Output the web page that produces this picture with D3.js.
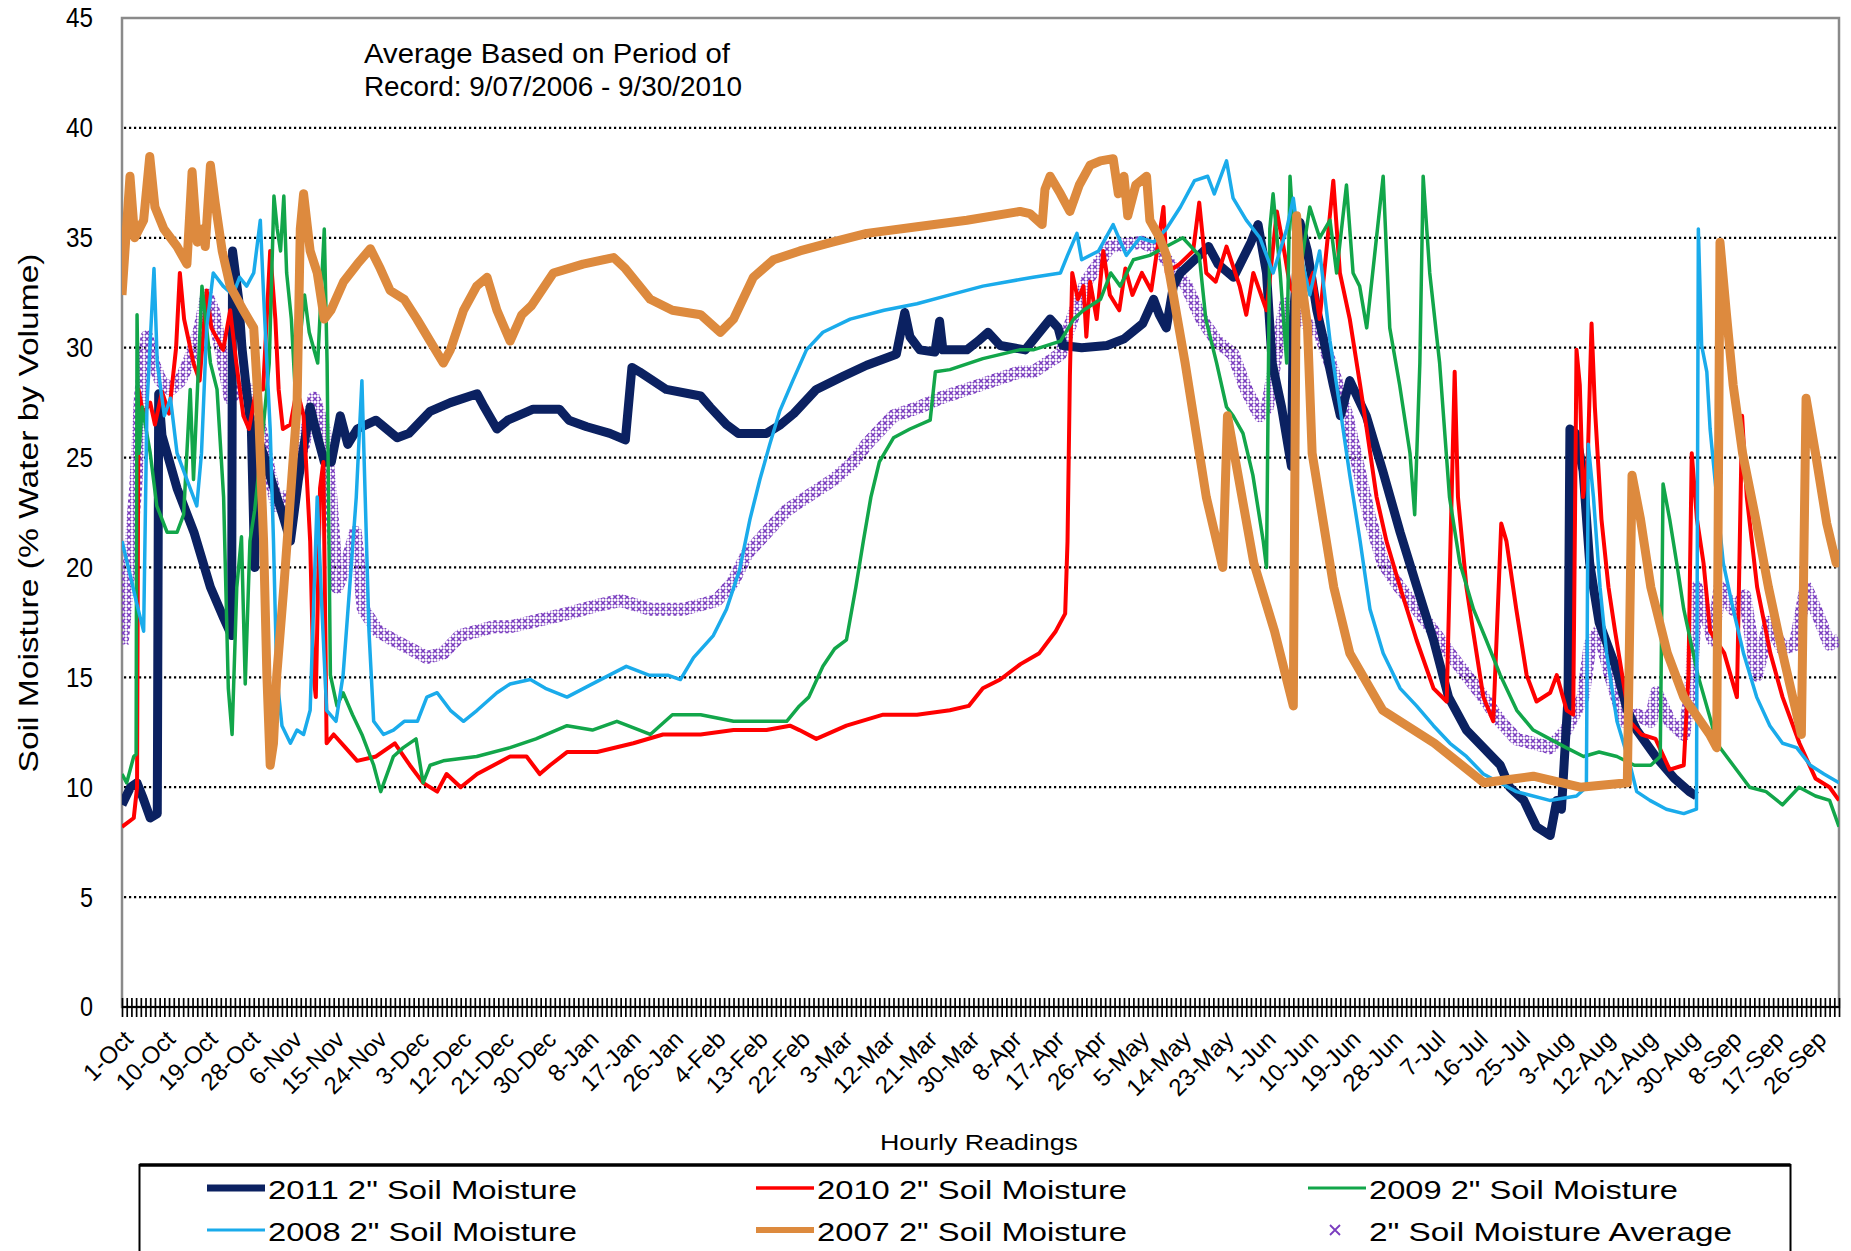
<!DOCTYPE html>
<html><head><meta charset="utf-8">
<script src="https://cdn.jsdelivr.net/npm/d3@7"></script>
<style>
html,body{margin:0;padding:0;background:#fff;}
svg{display:block;}
text{font-family:"Liberation Sans",Arial,sans-serif;fill:#000;}
</style></head>
<body>
<svg id="chart" width="1851" height="1251"></svg>
<script>
// ---------- DATA (day index from 1-Oct, % water by volume) ----------
const xLabels = ['1-Oct','10-Oct','19-Oct','28-Oct','6-Nov','15-Nov','24-Nov','3-Dec','12-Dec','21-Dec','30-Dec','8-Jan','17-Jan','26-Jan','4-Feb','13-Feb','22-Feb','3-Mar','12-Mar','21-Mar','30-Mar','8-Apr','17-Apr','26-Apr','5-May','14-May','23-May','1-Jun','10-Jun','19-Jun','28-Jun','7-Jul','16-Jul','25-Jul','3-Aug','12-Aug','21-Aug','30-Aug','8-Sep','17-Sep','26-Sep'];
const yTicks = [0,5,10,15,20,25,30,35,40,45];

const s2011 = [[0,9.2],[1.8,10],[3.2,10.2],[4.5,9.5],[6,8.6],[7.5,8.8],[7.8,27.9],[8.5,26],[11.7,23.6],[15.3,21.6],[18.8,19.1],[21.6,17.7],[23.3,16.9],[23.5,34.4],[24.8,32.2],[25.5,30],[26.5,28],[27.5,26.3],[28.2,20],[28.7,26],[30,25.2],[32,23.8],[34,22.5],[35.8,21.2],[37.5,24],[40,27.3],[41.5,26],[43,24.8],[44.5,24.8],[46.4,26.9],[48,25.6],[50,26.3],[54,26.7],[58.5,25.9],[61,26.1],[65.5,27.1],[69.8,27.5],[75.5,27.9],[77,27.3],[79.7,26.3],[82,26.7],[87.4,27.2],[93,27.2],[95,26.7],[98.8,26.4],[103.7,26.1],[107,25.8],[108.4,29.1],[110,28.9],[115.7,28.1],[123,27.8],[125,27.3],[128.5,26.5],[131,26.1],[137,26.1],[140,26.5],[142.8,27],[147.6,28.1],[153.3,28.7],[158.3,29.2],[164.6,29.7],[166.4,31.6],[167.5,30.5],[169.6,29.9],[172.8,29.8],[173.8,31.2],[174.5,29.9],[179.6,29.9],[182,30.3],[184.1,30.7],[186.7,30.1],[192,29.9],[197.3,31.3],[199,30.9],[200,30.1],[204,30],[209.4,30.1],[213,30.4],[217,31.1],[219.3,32.2],[220.5,31.5],[222,30.9],[223.5,32.8],[225,33.4],[229,34.2],[231,34.6],[233,33.8],[236.3,33.2],[240,34.8],[241.5,35.6],[243.3,33.4],[244.5,29.3],[246.5,27.3],[248.6,24.6],[249,31.3],[250.4,35.7],[252,34.4],[254,31.7],[255.7,30.1],[257.5,28.3],[259,26.9],[261,28.5],[264.5,26.9],[268,24.4],[271.7,21.6],[275.3,19.1],[278.8,16.7],[282,14.1],[285.8,12.6],[289.4,11.8],[293,11],[295,10],[298,9.4],[300.7,8.2],[303.6,7.8],[305,9.4],[306,9],[307.4,14.1],[307.8,26.3],[309,26.1],[310.6,24.4],[312,20.2],[312.8,19.1],[314,17.5],[317.5,15.5],[320,13.5],[322,12.6],[326,11.4],[330,10.4],[333.2,9.8],[334.7,9.6]];

const s2010 = [[0,8.2],[2.5,8.6],[3.2,10],[3.5,28.1],[4.5,27],[6,27.5],[7,26.5],[8.5,28],[10,27],[11.5,30],[12.3,33.4],[13.2,31.3],[15.2,29.3],[16.5,28.5],[18,32.6],[19,30.9],[20.5,30.3],[21.5,29.9],[23,31.7],[24.3,29.3],[25.8,26.9],[27,26.3],[28.5,28.1],[30,28.1],[31.5,34.4],[32.6,31.3],[33.3,28.1],[34.2,26.3],[35.8,26.5],[37.2,28.1],[38.6,26.9],[40,21.2],[40.7,15.1],[41.2,14.1],[42.1,23.6],[42.8,24.8],[43.5,12],[45,12.4],[47.5,11.8],[50,11.2],[54,11.4],[58,12],[61.2,11],[64,10.2],[67,9.8],[69,10.6],[72,10],[75.5,10.6],[79,11],[82.5,11.4],[86,11.4],[88.8,10.6],[91,11],[94.6,11.6],[101,11.6],[108.7,12],[115,12.4],[123,12.4],[130,12.6],[137,12.6],[142,12.8],[144,12.6],[147.6,12.2],[154,12.8],[161.8,13.3],[169,13.3],[176,13.5],[180,13.7],[183,14.5],[186.7,14.9],[191,15.6],[195,16.1],[198.5,17.1],[200.5,17.9],[201,21.2],[201.5,28.7],[202,33.4],[203.2,32.2],[204.4,32.8],[205,30.5],[205.8,33],[207.2,31.3],[208.6,34.4],[210,32.4],[212,31.7],[213.3,33.6],[214.8,32.4],[216.8,33.4],[218.8,32.6],[221.4,36.4],[222.1,33.4],[224.8,33.8],[227.7,34.4],[229,36.6],[230.5,33.4],[232.5,33],[234.8,34.6],[237.6,32.8],[239,31.5],[240.5,33.4],[243.3,31.7],[245.5,36.2],[246.9,34.6],[248.3,32.8],[250.4,32],[253.2,33.4],[254.6,31.3],[257.5,37.6],[258.9,33.4],[261,31.3],[263.2,28.3],[264.6,26.3],[266.7,23.2],[268.8,21.2],[271.7,19.1],[275.2,16.7],[278.8,14.5],[281.6,13.9],[283.3,28.9],[284,23.2],[285.8,19.1],[287.3,17],[289.4,14.1],[291.5,13],[293.2,22],[294.3,21.2],[296.4,18.1],[298.6,15.1],[300.7,13.9],[303.6,14.3],[305,15.1],[307.1,13.5],[308.5,13.3],[309.2,29.9],[309.9,28.3],[310.6,23.2],[311.6,25],[312.4,31.1],[313.1,27.3],[314.5,22.2],[316,19.1],[317.4,17.1],[320.5,13],[323,12.4],[326,12.2],[329,10.8],[332,11],[333,15.1],[333.7,25.2],[334.8,22.2],[336.2,20.2],[337.6,17.1],[340.6,16.1],[343.3,14.1],[344.4,26.9],[345.4,23.2],[347.6,19.1],[350.4,16.1],[353,14.1],[356.6,12],[360,10.4],[363,10],[365,9.4]];

const s2009 = [[0,10.6],[1,10.2],[2.5,11.4],[3,11.5],[3.2,31.5],[3.6,25.2],[4.3,27.3],[6,25.2],[7.4,22.8],[9.6,21.6],[11.7,21.6],[13.1,22.4],[14.5,28.1],[15.2,24],[17,32.8],[18.8,29.3],[20.2,28.1],[21.6,23.2],[22.6,14.5],[23.4,12.4],[24.4,19.1],[25.4,21.4],[26.2,14.7],[27.2,21.2],[28.2,22.6],[30,26.3],[31.3,29.3],[32.3,36.9],[33,35.4],[33.7,34.4],[34.4,36.9],[35,33.4],[36,31.3],[36.8,28.1],[37.8,30.3],[38.8,32.4],[39.8,30.7],[41.6,29.3],[43,35.4],[43.6,29.3],[44.3,15.1],[45.7,13.7],[47,14.3],[49,13.3],[51,12.4],[53.5,11],[55,9.8],[57.7,11.4],[59.8,11.8],[62.5,12.2],[64,10.2],[65.5,11],[68.3,11.2],[75.4,11.4],[82.5,11.8],[88,12.2],[94.6,12.8],[100,12.6],[105.2,13],[110,12.6],[112.3,12.4],[117,13.3],[123,13.3],[130,13],[141.3,13],[144,13.7],[146,14.1],[149,15.5],[151.5,16.3],[154,16.7],[156,19.1],[157.6,21.2],[159.2,23.2],[161,24.8],[164,25.9],[167.5,26.3],[171.8,26.7],[172.9,28.9],[176,29],[183,29.5],[190.8,29.9],[193.7,29.9],[199.5,30.3],[202.3,31.3],[204.4,31.7],[208,32.2],[210.2,33.4],[212.2,32.8],[215,34],[218.5,34.2],[222,34.6],[225.5,35],[229,34.2],[230.4,31.3],[232.7,29.3],[234.8,27.3],[236.2,26.9],[238.3,26.1],[240.4,24.2],[242.6,21.2],[243.3,20],[244,35.4],[244.7,37],[246.2,33.4],[247.6,29.3],[248.3,37.8],[249,35.4],[250.4,33.4],[252.5,36.4],[254.6,35],[256.8,35.8],[258.2,33.4],[260.3,37.4],[261.7,33.4],[263.1,32.8],[264.6,30.9],[268.1,37.8],[269.5,30.9],[271.6,28.3],[273.8,25.2],[274.8,22.4],[275.9,29.3],[276.6,37.8],[278,33.4],[280.1,29.3],[282.2,23.2],[284.4,20.2],[287.3,18.1],[290,16.7],[293,15.1],[296.5,13.5],[300,12.6],[303.5,12.2],[307,11.8],[310.7,11.4],[314,11.6],[317.8,11.4],[321.5,11],[325,11],[327,11.4],[327.6,23.8],[329,22.2],[330.5,20.2],[332,18.1],[335,15.1],[337.8,13],[339,12],[342.5,11],[346,10],[349.5,9.8],[353,9.2],[356.5,10],[360,9.6],[363,9.4],[365,8.2]];

const s2008 = [[0,21.2],[1.8,19.6],[3.2,18.3],[4.6,17.1],[5.3,27.3],[6,30.3],[6.8,33.6],[7.5,29.3],[9,26.9],[10.3,27.7],[11.7,25.2],[13.8,24],[15.9,22.8],[16.9,25.2],[18,30.9],[19.4,33.4],[21.5,32.8],[23.6,32.4],[25,33.2],[26.5,32.8],[28,33.4],[29.4,35.8],[30.1,32.4],[30.8,29.3],[31.5,26.3],[32.2,21.2],[32.9,15.1],[34,12.8],[35.8,12],[37.2,12.6],[38.6,12.4],[40,13.5],[40.7,18.1],[41.5,23.2],[42.5,18.1],[43.5,13.5],[45.5,13],[47,15.1],[48.4,19.1],[49.8,23.2],[51,28.5],[51.7,23.2],[52.5,17.1],[53.5,13],[55.6,12.4],[57.7,12.6],[60,13],[62.8,13],[64.8,14.1],[67,14.3],[69.8,13.5],[72.6,13],[75.5,13.5],[79.7,14.3],[82.5,14.7],[86.8,14.9],[90,14.5],[94.6,14.1],[100,14.7],[107.2,15.5],[112,15.1],[116,15.1],[118.7,14.9],[121.5,15.9],[125.7,16.9],[128.5,18.1],[131.3,19.9],[133.5,22.2],[135.6,24],[137.7,25.6],[139.8,27.1],[142.6,28.5],[145.5,29.9],[149,30.7],[154.8,31.3],[162,31.7],[169,32],[176,32.4],[183,32.8],[190.9,33.1],[193.7,33.2],[199.5,33.4],[201,34.2],[203,35.2],[204,34],[207.6,34.4],[210.7,35.6],[213.5,34.2],[216.4,35],[219.3,34.8],[222,35.4],[225,36.4],[228,37.6],[230.8,37.8],[232.2,37],[234.8,38.5],[236.2,36.8],[239,35.8],[241.9,35],[244.7,33.4],[247.6,35.4],[249,36.8],[250.4,34.4],[252.5,32.4],[254.6,34.4],[256.8,30.3],[258.9,27.3],[261,24.2],[263.2,21.2],[265.3,18.1],[268.1,16.1],[271.7,14.5],[275.2,13.7],[278.8,12.8],[282.3,12],[285.8,11.4],[289.4,10.6],[292.9,10.2],[296.4,9.8],[303.5,9.4],[309.2,9.6],[311.3,10],[311.7,25.6],[312.8,23.2],[314.2,19.1],[315.6,16.1],[317.8,13],[320.6,11],[322,9.8],[324.8,9.4],[328.3,9],[332,8.8],[334.7,9],[335.1,35.4],[335.8,30.1],[336.9,28.9],[337.6,26.3],[339,23.2],[340.4,20.2],[342.5,18.1],[344.7,16.1],[347.5,14.1],[350.3,12.8],[353,12],[356,11.8],[358.9,11],[361.8,10.6],[365,10.2]];

const s2007 = [[0,32.4],[1.7,37.8],[2.7,35],[4.6,35.8],[5.9,38.7],[7,36.4],[8.9,35.4],[11.7,34.6],[13.8,33.8],[14.9,38],[16,34.8],[17,35.4],[17.7,34.6],[18.8,38.3],[19.8,36.6],[21.3,34.4],[23,32.8],[25.8,31.7],[28,30.9],[29,27.3],[30.1,21.2],[30.8,15.1],[31.5,11],[32.2,12],[32.9,15.1],[34.4,19.1],[35.8,23.2],[37.2,27.3],[37.9,35.4],[38.6,37],[40,34.4],[41.5,33.4],[43,31.3],[44.4,31.7],[47.1,33],[50,33.8],[52.8,34.5],[54.9,33.6],[57,32.6],[60,32.2],[62.7,31.3],[65.5,30.3],[68.3,29.3],[69.8,29.9],[72.6,31.7],[75.4,32.8],[77.6,33.2],[79.7,31.7],[82.5,30.3],[85,31.5],[87,31.9],[91.7,33.4],[98,33.8],[104.5,34.1],[107,33.6],[112.3,32.2],[117,31.7],[123,31.5],[127.2,30.7],[130,31.3],[134.2,33.2],[138.5,34],[144.1,34.4],[151,34.8],[158.3,35.2],[169,35.5],[179.6,35.8],[190.9,36.2],[193,36.1],[195.6,35.6],[196.2,37.2],[197.3,37.8],[199.5,37],[201.5,36.2],[203.5,37.4],[205.8,38.3],[208,38.5],[210.7,38.6],[211.8,37],[213,37.8],[213.8,36],[215.5,37.4],[217.8,37.8],[218.5,35.8],[220.6,35],[222,34.2],[226,29.3],[230.5,23.2],[234,20],[235,26.9],[240.6,20.2],[245,17.1],[249,13.7],[249.7,36],[250.5,33.4],[252,31],[253,25.2],[257.6,19.1],[261,16.1],[268,13.5],[279,12],[289.5,10.2],[300,10.5],[310,10],[320,10.2],[321,24.2],[322.8,22.2],[325,19.1],[328.5,16.1],[332,14.1],[337.5,12.4],[339,11.8],[339.7,34.8],[341,31.7],[342.5,28.3],[344.5,25.2],[347.3,22.2],[350,19.1],[353,16.1],[357,12.4],[358,27.7],[360,25.2],[362.4,22],[364.4,20.2],[365,20.8]];

const sAvg = [[0,16.5],[1,18.7],[2.9,23.6],[3.9,27.7],[5.3,30.5],[6.7,29.3],[8.2,28.5],[10.3,28.1],[12.4,28.5],[14.5,29.5],[16.6,30.9],[18,32.4],[19.4,31.7],[21.6,29.3],[23,27.7],[25.1,28.1],[27.3,28.1],[29.4,26.3],[31.5,24.2],[32.9,22.8],[34.4,23.2],[35.8,22.4],[37.2,24.8],[38.6,25.6],[40.8,27.7],[43,26.3],[44.4,23.2],[45.7,19.1],[47.2,19.9],[48.6,20.8],[49.6,21.6],[51.3,18.1],[54.4,17.1],[57.7,16.7],[61.3,16.3],[64.8,15.9],[68.3,16.1],[71.9,16.9],[75.4,17.1],[79,17.3],[82.5,17.3],[86.6,17.5],[94.6,17.9],[101.6,18.3],[106,18.5],[112.3,18.1],[119.4,18.1],[126.4,18.5],[129.8,19.3],[132.8,20.6],[137,21.6],[141.3,22.6],[145.5,23.2],[151.3,24],[155.5,24.8],[158.3,25.6],[164,26.9],[169.6,27.3],[173.8,27.7],[179.6,28.1],[185.2,28.5],[190.9,28.9],[193.7,28.9],[199.5,29.7],[202.3,31.5],[205,33],[210,34.6],[217,34.8],[220.6,34.4],[226.3,32.8],[229.5,31.3],[232.7,30.3],[236.2,29.7],[239,28.1],[241.9,26.9],[243.5,27.3],[246,30.5],[247.4,32],[250.4,31.3],[254.6,30.7],[257.5,28.9],[260.4,26.9],[263.2,24.2],[265.3,22.2],[268.1,20.2],[271.6,19.1],[275.3,18.1],[278.8,17.1],[282.2,16.1],[285.8,15.1],[289.4,14.1],[293,13],[296.4,12.2],[300,12],[303.6,11.8],[307,12.6],[310.6,14.1],[312.1,16.5],[314,17.1],[316.4,15.1],[319.3,13],[322,13.3],[325,13],[326.2,14.3],[329,13],[332,12.4],[333.5,14.3],[334.7,19.1],[336.5,18.1],[338.2,16.7],[339.7,19.1],[342.5,18.1],[345,18.7],[347.5,15.1],[350.2,17.5],[353,16.3],[355.7,16.5],[358,19.1],[360.4,17.9],[363,16.5],[365,16.7]];

const seriesNames = ['2011 2" Soil Moisture','2010 2" Soil Moisture','2009 2" Soil Moisture','2008 2" Soil Moisture','2007 2" Soil Moisture','2" Soil Moisture Average'];
const noteLines = ['Average Based on Period of','Record: 9/07/2006 - 9/30/2010'];

// ---------- CHART ----------
const svg = d3.select('#chart');
const L = 122, R = 1839, T = 18, B = 1007;
const x = d3.scaleLinear().domain([0,365]).range([L,R]);
const y = d3.scaleLinear().domain([0,45]).range([B,T]);

const defs = svg.append('defs');
const pat = defs.append('pattern').attr('id','xpat').attr('patternUnits','userSpaceOnUse')
  .attr('width',6).attr('height',6);
pat.append('path').attr('d','M0.8,0.8L5.2,5.2M5.2,0.8L0.8,5.2').attr('stroke','#7a3dbf').attr('stroke-width',1.6).attr('fill','none');
defs.append('clipPath').attr('id','clip').append('rect').attr('x',L).attr('y',T).attr('width',R-L).attr('height',B-T);

// gridlines
svg.append('g').selectAll('line').data(yTicks.filter(v=>v>0&&v<45)).join('line')
  .attr('x1',L+2).attr('x2',R-2).attr('y1',d=>y(d)).attr('y2',d=>y(d))
  .attr('stroke','#000').attr('stroke-width',2.2).attr('stroke-dasharray','2.2,2.8');

// plot frame (gray)
svg.append('rect').attr('x',L).attr('y',T).attr('width',R-L).attr('height',B-T)
  .attr('fill','none').attr('stroke','#8a8a8a').attr('stroke-width',2.5);

const line = d3.line().x(d=>x(d[0])).y(d=>y(d[1]));
const gl = svg.append('g').attr('clip-path','url(#clip)');

const styles = [
  {data:sAvg, stroke:'url(#xpat)', w:13},
  {data:s2011, stroke:'#0b2161', w:9},
  {data:s2010, stroke:'#ff0000', w:4},
  {data:s2009, stroke:'#12a64a', w:3.5},
  {data:s2008, stroke:'#1aabeb', w:3.5},
  {data:s2007, stroke:'#dd8a3e', w:9}
];
styles.forEach(s=>{
  gl.append('path').datum(s.data).attr('d',line).attr('fill','none')
    .attr('stroke',s.stroke).attr('stroke-width',s.w).attr('stroke-linejoin','round').attr('stroke-linecap','butt');
});

// x axis with daily tick marks
const xAxis = d3.axisBottom(x).tickValues(d3.range(0,366)).tickSize(19).tickFormat('');
const gx = svg.append('g').attr('transform',`translate(0,${B-9})`).call(xAxis);
gx.select('.domain').remove();
gx.selectAll('.tick line').attr('stroke','#000').attr('stroke-width',1.7);
svg.append('line').attr('x1',L).attr('x2',R).attr('y1',B).attr('y2',B).attr('stroke','#000').attr('stroke-width',2);

const labelDays = xLabels.map((d,i)=>i*9);
const xLab = d3.axisBottom(x).tickValues(labelDays).tickSize(0).tickFormat((d,i)=>xLabels[i]);
const gxl = svg.append('g').attr('transform',`translate(0,${B+22})`).call(xLab);
gxl.select('.domain').remove();
gxl.selectAll('.tick text').attr('font-size',24).attr('font-family','"Liberation Sans",Arial,sans-serif')
  .attr('text-anchor','end').attr('y',0).attr('dy','0.7em')
  .attr('transform','translate(0,0) rotate(-45)');

// y axis labels
const yAxis = d3.axisLeft(y).tickValues(yTicks).tickSize(0).tickPadding(29);
const gy = svg.append('g').attr('transform',`translate(${L},0)`).call(yAxis);
gy.select('.domain').remove();
gy.selectAll('.tick text').attr('font-size',28).attr('font-family','"Liberation Sans",Arial,sans-serif')
  .attr('textLength',d=>d>=10?27:13).attr('lengthAdjust','spacingAndGlyphs');

// axis titles
svg.append('text').attr('transform','translate(38,513) rotate(-90)').attr('text-anchor','middle')
  .attr('font-size',27).attr('textLength',519).attr('lengthAdjust','spacingAndGlyphs')
  .text('Soil Moisture (% Water by Volume)');
svg.append('text').attr('x',979).attr('y',1150).attr('text-anchor','middle')
  .attr('font-size',22).attr('textLength',198).attr('lengthAdjust','spacingAndGlyphs')
  .text('Hourly Readings');

// note
noteLines.forEach((t,i)=>{
  svg.append('text').attr('x',364).attr('y',63+i*33).attr('font-size',27)
    .attr('textLength',[366,378][i]).attr('lengthAdjust','spacingAndGlyphs').text(t);
});

// legend
svg.append('rect').attr('x',139.5).attr('y',1165).attr('width',1651).attr('height',140)
  .attr('fill','#fff').attr('stroke','#000').attr('stroke-width',2);
svg.append('line').attr('x1',139.5).attr('x2',1790.5).attr('y1',1165).attr('y2',1165).attr('stroke','#000').attr('stroke-width',3.5);
const legItems = [
  {c:'#0b2161', w:7, col:0,row:0},
  {c:'#ff0000', w:3.5, col:1,row:0},
  {c:'#12a64a', w:3, col:2,row:0},
  {c:'#1aabeb', w:3, col:0,row:1},
  {c:'#dd8a3e', w:6, col:1,row:1},
  {c:null, w:0, col:2,row:1}
];
const colX = [207,756,1308];
const rowY = [1188,1230];
const legW = [309,310,309,309,310,363];
legItems.forEach((it,i)=>{
  const lx = colX[it.col], ly = rowY[it.row];
  if(it.c){
    svg.append('line').attr('x1',lx).attr('x2',lx+58).attr('y1',ly).attr('y2',ly)
      .attr('stroke',it.c).attr('stroke-width',it.w);
  } else {
    svg.append('path').attr('d',`M${lx+22},${ly-5}L${lx+32},${ly+5}M${lx+32},${ly-5}L${lx+22},${ly+5}`)
      .attr('stroke','#7a3dbf').attr('stroke-width',1.8);
  }
  svg.append('text').attr('x',lx+61).attr('y',ly+11).attr('font-size',26)
    .attr('textLength',legW[i]).attr('lengthAdjust','spacingAndGlyphs').text(seriesNames[i]);
});
</script>
</body></html>
